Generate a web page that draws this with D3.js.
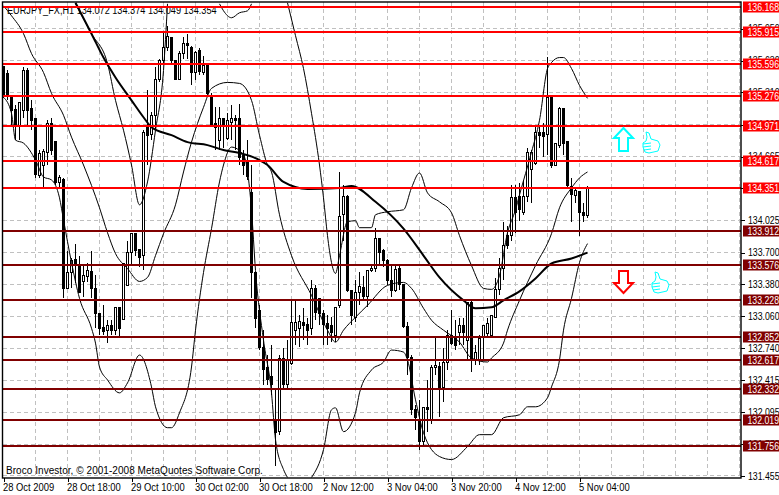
<!DOCTYPE html>
<html><head><meta charset="utf-8">
<script src="https://cdn.jsdelivr.net/npm/d3@7/dist/d3.min.js"></script>
<style>
html,body{margin:0;padding:0;background:#fff;overflow:hidden}
svg{display:block}
text{font-family:"Liberation Sans",Arial,sans-serif;font-size:10px;fill:#000}
</style></head><body><div id="c"></div>
<script>
const opens=[135.57,135.50,135.28,135.14,134.98,135.13,135.53,135.15,135.05,134.47,134.58,134.71,135.00,134.82,134.40,134.43,133.34,133.50,133.63,133.57,133.41,133.46,133.51,133.34,133.09,132.95,132.92,132.97,132.92,133.15,133.03,133.37,133.70,133.89,133.73,133.67,134.98,134.89,135.08,135.44,135.63,135.76,135.86,135.63,135.44,135.70,135.80,135.76,135.51,135.73,135.51,135.58,135.28,135.00,134.83,135.05,134.85,135.01,135.05,135.05,134.68,134.63,134.30,133.50,133.12,132.75,132.54,132.45,132.00,131.90,132.64,132.37,132.59,132.92,132.94,133.00,132.98,132.94,133.34,133.24,133.09,132.99,132.97,132.87,133.17,134.08,134.26,133.32,133.05,133.30,133.35,133.26,133.52,133.54,133.84,133.72,133.62,133.42,133.32,133.54,133.38,132.96,132.65,132.12,132.02,131.80,132.14,132.02,132.54,132.55,132.34,132.60,132.87,132.85,132.90,132.97,132.82,133.20,132.62,132.62,132.85,132.89,132.87,133.05,133.33,133.54,133.87,133.87,134.25,134.26,134.10,134.26,134.53,134.60,134.91,134.91,134.89,135.26,134.58,134.78,135.15,134.82,134.36,134.27,134.31,134.10,134.072];
const highs=[135.57,135.53,135.28,135.18,135.21,135.57,135.55,135.23,135.05,134.73,134.74,135.03,135.05,134.82,134.48,134.45,133.72,133.65,133.79,133.67,133.57,133.60,133.72,133.47,133.09,133.17,133.02,133.02,133.15,133.15,133.59,133.82,133.89,133.89,133.73,134.93,135.33,135.11,135.57,135.65,135.91,135.98,135.87,135.63,135.73,135.87,135.90,135.78,135.73,135.76,135.68,135.58,135.30,135.16,135.16,135.05,135.10,135.18,135.08,135.19,134.73,134.83,134.58,133.50,133.17,132.92,132.67,132.77,132.32,132.67,132.74,132.82,133.22,133.22,133.07,133.14,133.04,133.42,133.37,133.24,133.12,133.07,133.05,133.15,134.51,134.38,134.28,133.32,133.42,133.50,133.46,133.52,133.59,133.95,133.84,133.74,133.64,133.57,133.57,133.57,133.38,133.00,132.67,132.17,132.22,132.14,132.42,132.57,132.84,132.60,132.74,132.92,133.12,133.02,133.04,133.04,133.20,133.22,132.77,132.87,132.97,133.04,133.07,133.44,133.65,134.01,133.97,134.38,134.38,134.40,134.43,134.75,134.73,134.96,134.98,135.00,135.67,135.26,134.80,135.16,135.15,134.82,134.45,134.36,134.31,134.20,134.374];
const lows=[135.25,135.23,134.98,134.83,134.83,135.05,134.98,134.93,134.45,134.45,134.36,134.58,134.68,134.38,134.35,133.24,133.34,133.34,133.39,133.30,133.25,133.40,133.24,132.94,132.87,132.87,132.79,132.87,132.87,132.84,133.03,133.37,133.57,133.67,133.55,133.52,134.58,134.83,134.93,135.41,135.59,135.73,135.61,135.43,135.43,135.65,135.65,135.38,135.43,135.48,135.48,135.28,134.96,134.73,134.73,134.75,134.83,134.83,134.73,134.58,134.48,134.43,133.24,132.94,132.72,132.37,132.37,132.27,131.55,131.87,132.34,132.34,132.57,132.77,132.75,132.82,132.77,132.87,133.02,132.97,132.77,132.77,132.80,132.80,133.14,133.82,133.30,132.97,133.00,133.17,133.22,133.15,133.50,133.50,133.57,133.55,133.37,133.25,133.30,133.32,132.94,132.47,132.07,131.92,131.72,131.77,131.90,131.98,132.47,132.05,132.20,132.52,132.77,132.72,132.77,132.77,132.62,132.50,132.57,132.57,132.62,132.84,132.84,133.04,133.27,133.42,133.74,133.82,133.90,134.02,134.08,134.21,134.20,134.58,134.75,134.66,134.68,134.55,134.58,134.75,134.68,134.35,134.01,134.20,133.87,134.01,134.049];
const closes=[135.29,135.28,135.13,134.98,135.21,135.53,135.13,135.03,134.48,134.70,134.72,135.00,134.73,134.40,134.45,133.34,133.50,133.62,133.57,133.30,133.47,133.52,133.34,133.09,132.94,132.91,132.97,132.92,133.15,132.94,133.59,133.70,133.89,133.72,133.65,134.91,134.88,135.08,135.44,135.63,135.76,135.87,135.63,135.44,135.70,135.80,135.78,135.51,135.71,135.52,135.58,135.30,134.98,134.96,135.05,134.98,135.03,135.05,135.03,134.66,134.58,134.46,133.50,133.04,132.75,132.52,132.42,132.37,131.89,132.64,132.37,132.62,133.00,133.00,133.01,132.97,132.92,133.34,133.10,133.09,132.98,132.94,132.90,133.15,134.06,134.26,133.32,133.07,133.30,133.36,133.26,133.52,133.54,133.84,133.70,133.62,133.42,133.32,133.53,133.38,132.96,132.65,132.12,132.04,131.80,132.14,132.12,132.54,132.57,132.32,132.60,132.87,132.79,132.77,132.97,132.90,133.20,132.62,132.70,132.84,132.97,132.99,133.07,133.33,133.54,133.77,133.77,134.25,134.10,134.13,134.26,134.71,134.71,134.91,134.88,134.87,135.26,134.58,134.80,135.15,134.80,134.37,134.28,134.32,134.10,134.07,134.354];

const maBars=[18,22,25,28,32,35,37,42,46,51,55,59,64,66,70,76,84,87,93,100,105,109,115,118,122,125,129,133,137,142,146];
const maPrices=[136.21,135.90,135.66,135.46,135.23,135.06,134.96,134.88,134.81,134.78,134.73,134.70,134.63,134.58,134.41,134.34,134.35,134.37,134.21,133.94,133.67,133.45,133.22,133.14,133.15,133.22,133.31,133.44,133.59,133.64,133.70];

const upperABars=[18,22,26,28,30,32,34,36,38,40,41];
const upperAPrices=[136.20,135.90,135.60,135.23,134.93,134.58,134.18,134.41,134.93,135.53,136.20];
const upperBBars=[54,55,57,59,61,62];
const upperBPrices=[136.20,136.13,136.06,136.11,136.13,136.20];
const upperCBars=[71,73,75,77,79,80,81,82,83,84,86,88,89,92,93,96,100,102,104,106,109,112,114,117,120,122,124,126,128,129,132,134,136,137,139,140,142,144,146];
const upperCPrices=[136.21,135.88,135.55,135.10,134.58,134.25,133.87,133.60,133.49,133.67,134.01,134.02,133.95,133.95,134.08,134.11,134.13,134.35,134.50,134.30,134.21,134.10,133.87,133.57,133.34,133.33,133.47,133.90,134.13,134.28,134.71,135.03,135.55,135.61,135.66,135.66,135.55,135.38,135.25];

const midBars=[0,2,5,7,10,12,15,17,20,24,26,28,31,34,36,38,40,43,45,47,50,52,56,59,62,64,66,67,69,72,77,81,83,85,88,91,96,100,102,105,107,110,114,117,121,122,125,126,129,133,137,139,142,144,146];
const midPrices=[136.18,136.08,135.90,135.70,135.51,135.30,135.08,134.86,134.58,134.15,133.90,133.69,133.54,133.41,133.45,133.67,133.89,134.18,134.51,134.81,135.16,135.35,135.41,135.40,135.23,134.88,134.58,134.51,134.08,133.67,133.27,132.92,132.80,132.92,133.05,133.17,133.37,133.40,133.34,133.14,133.02,132.92,132.80,132.64,132.60,132.64,132.79,132.92,133.22,133.57,133.89,134.15,134.35,134.45,134.51];

const lowerABars=[0,2,3,5,8,10,12,14,15,17,19,22,23,24,26,29,31,34,37,38,41,42,44,47,48,50,52,54,55,57,60,62,63,65,67,68,70,71];
const lowerAPrices=[135.26,135.10,134.83,134.80,134.63,134.46,134.43,134.25,134.03,133.60,133.24,132.94,132.79,132.55,132.42,132.29,132.39,132.67,132.35,132.15,131.94,131.94,132.09,132.55,132.92,133.50,133.94,134.41,134.58,134.76,134.68,134.13,133.52,132.82,132.29,131.82,131.52,131.44];
const lowerBBars=[77,80,82,83,85,88,89,92,95,97,100,101,103,105,109,112,116,119,122,125,129,131,133,136,137,139,140,142,144,146];
const lowerBPrices=[131.44,131.72,132.12,132.14,131.90,132.09,132.29,132.52,132.60,132.72,132.70,132.62,132.22,131.89,131.65,131.62,131.75,131.87,131.87,132.04,132.07,132.15,132.15,132.24,132.35,132.62,132.92,133.24,133.60,133.79];

const resistanceLevels=[136.168,135.915,135.596,135.276,134.971,134.617,134.351];
const supportLevels=[133.912,133.576,133.228,132.852,132.617,132.332,132.019,131.756];
const priceTicks=[135.950,135.630,135.310,134.985,134.665,134.345,134.025,133.700,133.380,133.060,132.740,132.415,132.095,131.775,131.455];
const timeTickBars=[0,16,32,48,64,80,96,112,128,144];
const timeTickLabels=["28 Oct 2009","28 Oct 18:00","29 Oct 10:00","30 Oct 02:00","30 Oct 18:00","2 Nov 12:00","3 Nov 04:00","3 Nov 20:00","4 Nov 12:00","5 Nov 04:00"];
const gridBars=d3.range(8,185,8);
const titleText="EURJPY_FX,H1  134.072 134.374 134.049 134.354";
const creditText="Broco Investor, © 2001-2008 MetaQuotes Software Corp.";

const W=779,H=495,L=3,T=2,R=741,B=478;
const x=d3.scaleLinear().domain([0,146]).range([3.5,587.5]);
const y=d3.scaleLinear().domain([136.168,131.756]).range([7,446]);
const svg=d3.select("#c").append("svg").attr("width",W).attr("height",H);
svg.append("defs").append("clipPath").attr("id","plot").append("rect").attr("x",L).attr("y",T).attr("width",R-L).attr("height",B-T);
const snap=v=>Math.floor(v)+.5;
// narrow the glyphs of a text to a share of its natural width
const squeeze=(sel,f)=>sel.each(function(){this.setAttribute("textLength",(this.getComputedTextLength()*f).toFixed(1));this.setAttribute("lengthAdjust","spacingAndGlyphs");});

// grid
const grid=svg.append("g").attr("stroke","#c0c0c0").attr("stroke-dasharray","4,3").attr("shape-rendering","crispEdges");
grid.selectAll(".h").data(priceTicks).join("line").attr("x1",L).attr("x2",R).attr("y1",d=>snap(y(d))).attr("y2",d=>snap(y(d)));
grid.selectAll(".v").data(gridBars).join("line").attr("y1",T).attr("y2",B).attr("x1",d=>snap(x(d))).attr("x2",d=>snap(x(d)));

const plot=svg.append("g").attr("clip-path","url(#plot)");
// candles
const cg=plot.append("g").attr("shape-rendering","crispEdges");
const idx=d3.range(opens.length);
cg.selectAll(".w").data(idx).join("line").attr("stroke","#000").attr("x1",i=>snap(x(i))).attr("x2",i=>snap(x(i))).attr("y1",i=>y(highs[i])).attr("y2",i=>y(lows[i]));
cg.selectAll(".b").data(idx).join("rect")
 .attr("x",i=>snap(x(i))-1).attr("width",2)
 .attr("y",i=>snap(y(Math.max(opens[i],closes[i]))))
 .attr("height",i=>Math.max(1,snap(y(Math.min(opens[i],closes[i])))-snap(y(Math.max(opens[i],closes[i])))))
 .attr("fill",i=>closes[i]>=opens[i]?"#fff":"#000").attr("stroke","#000");

// indicator lines
const line=d3.line().x(d=>x(d[0])).y(d=>y(d[1])).curve(d3.curveMonotoneX);
const zip=(a,b)=>a.map((v,i)=>[v,b[i]]);
[[upperABars,upperAPrices],[upperBBars,upperBPrices],[upperCBars,upperCPrices],[midBars,midPrices],[lowerABars,lowerAPrices],[lowerBBars,lowerBPrices]].forEach(([a,b])=>{
 plot.append("path").attr("d",line(zip(a,b))).attr("fill","none").attr("stroke","#000").attr("stroke-width",1);
});
plot.append("path").attr("d",line(zip(maBars,maPrices))).attr("fill","none").attr("stroke","#000").attr("stroke-width",2);

// credit and title
svg.append("text").attr("x",6).attr("y",474).text(creditText).style("letter-spacing","0.05px");
svg.append("text").attr("x",7).attr("y",14).text(titleText).call(squeeze,.915);

// level lines
const lv=svg.append("g").attr("shape-rendering","crispEdges").attr("stroke-width",2);
lv.selectAll(".r").data(resistanceLevels).join("line").attr("x1",L).attr("x2",R).attr("y1",d=>Math.round(y(d))).attr("y2",d=>Math.round(y(d))).attr("stroke","#ff0000");
lv.selectAll(".s").data(supportLevels).join("line").attr("x1",L).attr("x2",R).attr("y1",d=>Math.round(y(d))).attr("y2",d=>Math.round(y(d))).attr("stroke","#800000");

// frame
svg.append("rect").attr("x",L-.5).attr("y",T).attr("width",R-L+.5).attr("height",B-T).attr("fill","none").attr("stroke","#000").attr("stroke-width",1.4);

// axes
const yAxis=svg.append("g").attr("transform",`translate(${R},0)`).call(d3.axisRight(y).tickValues(priceTicks).tickFormat(d3.format(".3f")).tickSize(4).tickPadding(3));
yAxis.select(".domain").remove();
yAxis.selectAll("line").attr("stroke","#000").attr("shape-rendering","crispEdges");
yAxis.selectAll("text").call(squeeze,.873);
const xAxis=svg.append("g").attr("transform",`translate(0,${B})`).call(d3.axisBottom(x).tickValues(timeTickBars).tickFormat((d,i)=>timeTickLabels[i]).tickSize(4).tickPadding(2));
xAxis.select(".domain").remove();
xAxis.selectAll("line").attr("stroke","#000").attr("shape-rendering","crispEdges");
xAxis.selectAll("text").attr("text-anchor","start").attr("dx","-1").call(squeeze,.94);

// level tags
const tags=svg.append("g");
function tag(v,c){const t=tags.append("g").attr("transform",`translate(743,${Math.round(y(v))})`);
 t.append("rect").attr("x",0).attr("y",-5.5).attr("width",36).attr("height",11).attr("fill",c);
 t.append("text").attr("x",4.5).attr("y",3.5).style("fill","#fff").text(d3.format(".3f")(v)).call(squeeze,.873);}
resistanceLevels.forEach(v=>tag(v,"#ff0000"));
supportLevels.forEach(v=>tag(v,"#800000"));

// arrows
svg.append("path").attr("d","M9.5,0 L19,10 L14,10 L14,23 L5,23 L5,10 L0,10 Z").attr("transform","translate(614,128)").attr("fill","#fff").attr("stroke","#00ffff").attr("stroke-width",2);
svg.append("path").attr("d","M9.5,22 L19,12 L14,12 L14,0 L5,0 L5,12 L0,12 Z").attr("transform","translate(614,271)").attr("fill","#fff").attr("stroke","#ff0000").attr("stroke-width",2);
// thumbs
const thumb="M3,0 L6,1 L8,7 L15,9 L17,13 L15,19 L6,21 L2,20 L0,15 L0,11 L3,9 L4,5 Z M0,12 L8,11 M0,15 L8,14 M1,18 L8,17";
[[643,132],[652,272]].forEach(p=>svg.append("path").attr("d",thumb).attr("transform",`translate(${p})`).attr("fill","#fff").attr("stroke","#00ffff").attr("stroke-width",1));
</script></body></html>
